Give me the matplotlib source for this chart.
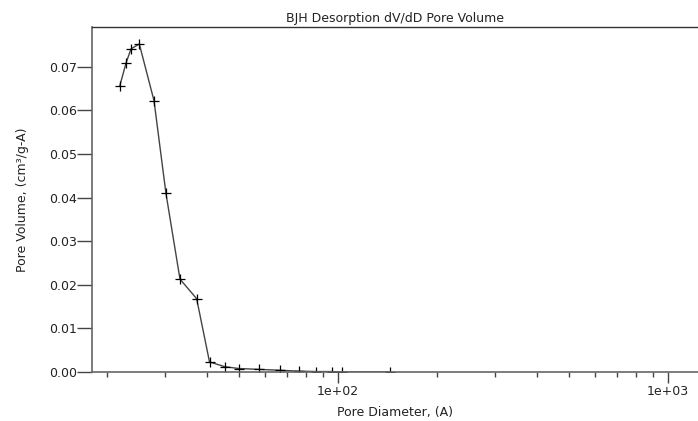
import matplotlib
matplotlib.use("Agg")
import matplotlib.pyplot as plt
from matplotlib.ticker import FixedLocator, FixedFormatter, NullFormatter

plt.rcParams['font.family'] = ['DejaVu Sans']

diameter = [21.8, 22.8, 23.6, 25.0, 27.7, 30.1, 33.2, 37.3, 40.8, 45.5, 50.0, 57.7, 66.7, 76.0, 86.0, 96.0, 103.0, 144.0]
volume = [0.0655, 0.0709, 0.0741, 0.0752, 0.0622, 0.0410, 0.0213, 0.0168, 0.0023, 0.0012, 0.0008, 0.0006, 0.0004, 0.0002, 0.0001, 0.0001, 0.0000, 0.0000]

yticks = [0.00, 0.01, 0.02, 0.03, 0.04, 0.05, 0.06, 0.07]
xmajor = [100, 1000]
xmajor_labels = ['1e+02', '1e+03']
xminor = [20, 30, 40, 50, 60, 70, 80, 90, 200, 300, 400, 500, 600, 700, 800, 900]

fig = plt.figure(figsize=(6.98, 4.21), dpi=100)
ax = fig.add_axes([0.1318, 0.1164, 0.8682, 0.8195])

ax.plot(diameter, volume, color='#444444', lw=1.0, marker='+', markersize=7.5,
        markeredgecolor='black', markeredgewidth=0.9)

ax.set_xscale('log')
ax.set_xlim(17.97, 1233)
ax.set_ylim(0, 0.0791)

ax.xaxis.set_major_locator(FixedLocator(xmajor))
ax.xaxis.set_major_formatter(FixedFormatter(xmajor_labels))
ax.xaxis.set_minor_locator(FixedLocator(xminor))
ax.xaxis.set_minor_formatter(NullFormatter())
ax.set_yticks(yticks)
ax.set_yticklabels([f'{v:.2f}' for v in yticks])

ax.tick_params(axis='y', direction='out', length=10.5, width=1, color='#444444',
               labelsize=9, labelcolor='#222222', pad=0.5)
ax.tick_params(axis='x', which='major', direction='out', length=8, width=1,
               color='#444444', labelsize=9, labelcolor='#222222', pad=1.5)
ax.tick_params(axis='x', which='minor', direction='out', length=3.5, width=1,
               color='#444444')

for s in ['left', 'bottom']:
    ax.spines[s].set_color('#666666')
    ax.spines[s].set_linewidth(1.2)
ax.spines['top'].set_color('#333333')
ax.spines['top'].set_linewidth(1.0)
ax.spines['right'].set_visible(False)

ax.set_title('BJH Desorption dV/dD Pore Volume', fontsize=9, color='#222222',
             y=1.026, va='center', pad=0)
ax.set_xlabel('Pore Diameter, (A)', fontsize=9, color='#222222')
ax.xaxis.set_label_coords(0.5, -0.116)
ax.xaxis.label.set_va('center')
ax.set_ylabel('Pore Volume, (cm³/g-A)', fontsize=9, color='#222222')
ax.yaxis.set_label_coords(-0.114, 0.5)
ax.yaxis.label.set_va('center')

fig.savefig('out.png', dpi=100)
